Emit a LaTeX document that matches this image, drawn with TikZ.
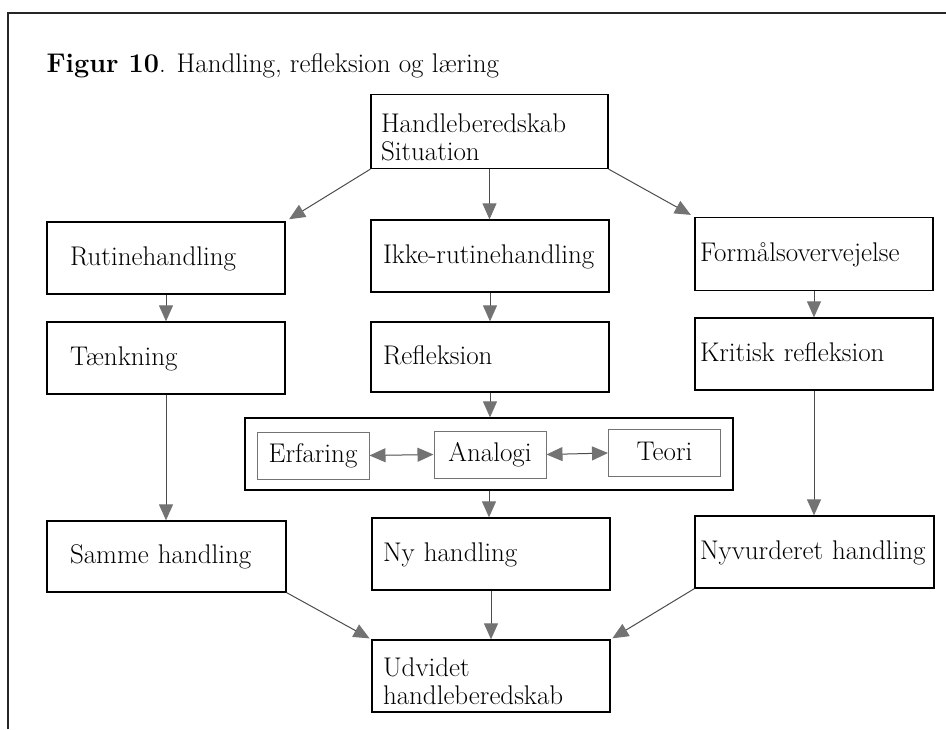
\documentclass[tikz,border=0pt]{standalone}
\usetikzlibrary{arrows.meta}

\def\setofboxes{489.5/131.5/237/74/10/boxtwo/sit/{Handleberedskab\\Situation},
  166/258/238/72/23/box/rutine/Rutinehandling,
  490/256/238/72/12/box/ikke/Ikke-rutinehandling,
  814/254/238/73/5/box/formaal/Formålsovervejelse,
  166/358/238/72/23/box/taenk/Tænkning,
  490/357/238/70/12/box/refl/Refleksion,
  814/354/238/72/5/box/kritisk/Kritisk refleksion,
  166.5/556.5/239/71/23/box/samme/Samme handling,
  491/554/238/72/11/box/ny/Ny handling,
  814.5/552/239/72/5/box/nyvurd/Nyvurderet handling,
  491/676/238/72/11/boxtwo/udvid/{Udvidet\\handleberedskab}}
\def\setofinner{313/455.5/erf/Erfaring, 490/454.5/analogi/Analogi,
  664.5/453/teori/Teori}

\begin{document}
\begin{tikzpicture}[x=1pt,y=-1pt,
    every node/.style={font=\fontsize{27}{28}\selectfont},
    box/.style={draw, line width=1.3pt, inner ysep=0pt, align=left,
      text height=20pt, text depth=6pt},
    boxtwo/.style={draw, line width=1.3pt, inner ysep=0pt, align=left,
      execute at begin node={\rule{0pt}{30pt}}},
    inbox/.style={draw=black!55, line width=1pt, minimum width=112pt,
      minimum height=47pt, inner sep=0pt, text height=20pt, text depth=6pt},
    arr/.style={draw=black!70, line width=1pt,
      -{Triangle[length=16pt,width=14pt,color=black!55]}},
    dblarr/.style={draw=black!70, line width=1pt,
      {Triangle[length=16pt,width=14pt,color=black!55]}-%
      {Triangle[length=16pt,width=14pt,color=black!55]}}]

    \useasboundingbox (0,0) rectangle (946,729);

    %% FRAME (cut by the page)
    \draw[line width=2pt, black!85] (8,729) -- (8,13) -- (946,13);

    \node[anchor=base west, font=\fontsize{27}{30}\selectfont] (titel)
      at (43,72) {\textbf{Figur 10}. Handling, refleksion og læring};

    %% DRAW BOXES
    \foreach \x/\y/\w/\h/\i/\s/\n/\t in \setofboxes {%
      \pgfmathsetmacro\tw{\w-2*\i}
      \node[\s, minimum width=\w pt, minimum height=\h pt,
        inner xsep=\i pt, text width=\tw pt] (\n) at (\x,\y) {\t};
    }

    \node[draw, line width=1.3pt, minimum width=488pt,
      minimum height=72pt] (komb) at (489,454) {};
    \foreach \x/\y/\n/\t in \setofinner {%
      \node[inbox] (\n) at (\x,\y) {\t};
    }

    %% DRAW ARROWS
    \foreach \a/\b in {sit/ikke, rutine/taenk, taenk/samme, ikke/refl,
      refl/komb, komb/ny, ny/udvid, formaal/kritisk, kritisk/nyvurd} {%
      \draw[arr] (\a.south) -- (\a.south |- \b.north);
    }

    \draw[arr, shorten >=4pt] (sit.south west) -- (rutine.north east);
    \draw[arr, shorten >=4pt] (sit.south east) -- (formaal.north west);
    \draw[arr, shorten >=2pt] (samme.south east) -- (udvid.north west);
    \draw[arr, shorten >=2pt] (nyvurd.south west) -- (udvid.north east);

    \draw[dblarr] (erf.east) -- (analogi.west);
    \draw[dblarr] (analogi.east) -- (teori.west);

  \end{tikzpicture}
\end{document}
